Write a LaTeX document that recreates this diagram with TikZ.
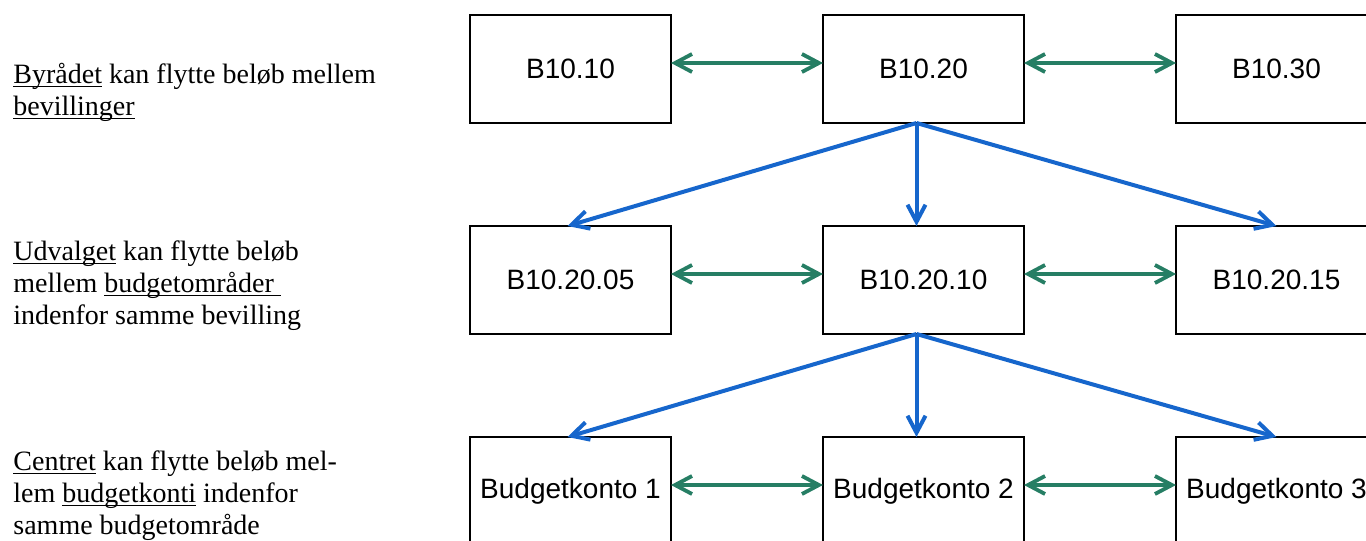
\documentclass[tikz,border=0pt]{standalone}
\usepackage{fontspec}
\setmainfont{Liberation Serif}
\newfontfamily\arial{Liberation Sans}
\usetikzlibrary{positioning}
\usetikzlibrary{arrows.meta}
\definecolor{flowblue}{RGB}{22,102,204}
\definecolor{swapgreen}{RGB}{38,126,100}
\newcommand\uword[1]{\setbox0\hbox{#1}\rlap{\rule[-2pt]{\wd0}{0.5pt}}\box0\relax}

\begin{document}
\begin{tikzpicture}[x=0.5pt,y=-0.5pt,
	>={Straight Barb[length=8.5pt,width=9pt]},
	box/.style={rectangle,draw,line width=1pt,minimum width=100.5pt,minimum height=54pt,inner sep=0pt,outer sep=0pt,font=\arial\fontsize{14}{16}\selectfont},
	swap/.style={<->,swapgreen,line width=1.9pt},
	flow/.style={->,flowblue,line width=2pt},
	note/.style={anchor=base west,align=left,inner sep=0pt,font=\fontsize{14}{16}\selectfont}]
	\useasboundingbox (0,0) rectangle (1366,541);
	% bevillinger
	\node [box] (b1010) at (570.5,69) {B10.10};
	\node [box,right=76pt of b1010] (b1020) {B10.20};
	\node [box,right=76pt of b1020] (b1030) {B10.30};
	% budgetomraader
	\node [box,below=51.5pt of b1010] (b102005) {B10.20.05};
	\node [box,below=51.5pt of b1020] (b102010) {B10.20.10};
	\node [box,below=51.5pt of b1030] (b102015) {B10.20.15};
	% budgetkonti
	\node [box,below=51.5pt of b102005] (konto1) {Budgetkonto 1};
	\node [box,below=51.5pt of b102010] (konto2) {Budgetkonto 2};
	\node [box,below=51.5pt of b102015] (konto3) {Budgetkonto 3};

	\draw [swap] ([yshift=3pt]b1010.east) -- ([yshift=3pt]b1020.west);
	\draw [swap] ([yshift=3pt]b1020.east) -- ([yshift=3pt]b1030.west);
	\draw [swap] ([yshift=3pt]b102005.east) -- ([yshift=3pt]b102010.west);
	\draw [swap] ([yshift=3pt]b102010.east) -- ([yshift=3pt]b102015.west);
	\draw [swap] ([yshift=3pt]konto1.east) -- ([yshift=3pt]konto2.west);
	\draw [swap] ([yshift=3pt]konto2.east) -- ([yshift=3pt]konto3.west);

	\draw [flow] ([xshift=-3.5pt]b1020.south) -- ([xshift=-1.5pt]b102005.north);
	\draw [flow] ([xshift=-3.5pt]b1020.south) -- ([xshift=-3.5pt]b102010.north);
	\draw [flow] ([xshift=-3.5pt]b1020.south) -- (b102015.north);
	\draw [flow] ([xshift=-3.5pt]b102010.south) -- ([xshift=-1.5pt]konto1.north);
	\draw [flow] ([xshift=-3.5pt]b102010.south) -- ([xshift=-3.5pt]konto2.north);
	\draw [flow] ([xshift=-3.5pt]b102010.south) -- (konto3.north);

	% tekst til venstre (base = sidste linje)
	\node [note] (byraad) at (13,115) {\uword{Byrådet} kan flytte beløb mellem\\\uword{bevillinger}};
	\node [note] (udvalg) at (13,324) {\uword{Udvalget} kan flytte beløb\\mellem \uword{budgetområder\ }\\indenfor samme bevilling};
	\node [note] (center) at (13,534) {\uword{Centret} kan flytte beløb mel-\\lem \uword{budgetkonti} indenfor\\samme budgetområde};
\end{tikzpicture}
\end{document}
